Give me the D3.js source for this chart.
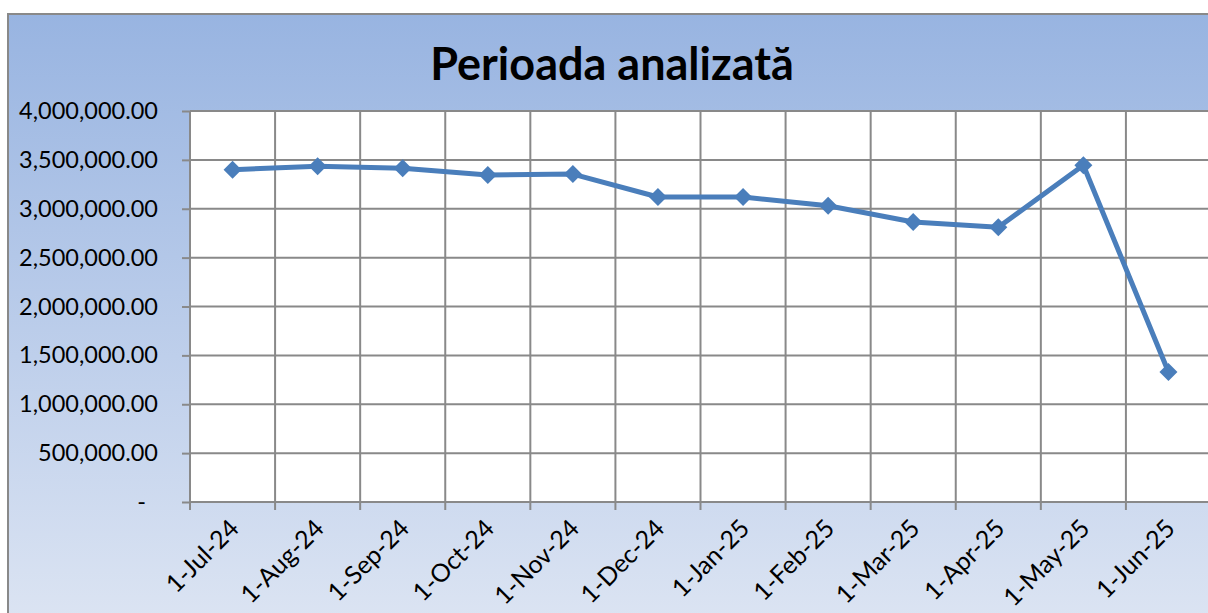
<!DOCTYPE html>
<html><head><meta charset="utf-8">
<script src="https://cdn.jsdelivr.net/npm/d3@7"></script>
<style>html,body{margin:0;padding:0;background:#fff;overflow:hidden}</style>
</head><body>
<svg id="c" width="1208" height="613"></svg>
<script>
const months = ["1-Jul-24","1-Aug-24","1-Sep-24","1-Oct-24","1-Nov-24","1-Dec-24","1-Jan-25","1-Feb-25","1-Mar-25","1-Apr-25","1-May-25","1-Jun-25"];
const values = [3400000,3435000,3415000,3345000,3355000,3120000,3120000,3030000,2865000,2810000,3445000,1330000];
const yTicks = [0,500000,1000000,1500000,2000000,2500000,3000000,3500000,4000000];
const title = "Perioada analizată";

const svg = d3.select("#c");
const FONT = "Lato, 'Open Sans', sans-serif";
const defs = svg.append("defs");
const g = defs.append("linearGradient").attr("id","bg").attr("x1",0).attr("y1",0).attr("x2",0).attr("y2",1);
g.append("stop").attr("offset","0").attr("stop-color","#98b4e1");
g.append("stop").attr("offset","1").attr("stop-color","#dde5f3");

svg.append("rect").attr("x",8).attr("y",14).attr("width",1220).attr("height",620)
  .attr("fill","url(#bg)").attr("stroke","#898989").attr("stroke-width",2);

const L=190, T=111, R=1211, B=502;
svg.append("rect").attr("x",L).attr("y",T).attr("width",R-L).attr("height",B-T).attr("fill","#fff");

const x = d3.scaleBand().domain(months).range([L,R]).padding(0);
const y = d3.scaleLinear().domain([0,4000000]).range([B,T]);

// horizontal gridlines
svg.append("g").selectAll("line").data(yTicks).join("line")
  .attr("x1",L).attr("x2",R).attr("y1",d=>y(d)).attr("y2",d=>y(d))
  .attr("stroke","#898989").attr("stroke-width",2);
// vertical gridlines at category boundaries
svg.append("g").selectAll("line").data(months).join("line")
  .attr("x1",d=>x(d)).attr("x2",d=>x(d)).attr("y1",T).attr("y2",B+8)
  .attr("stroke","#898989").attr("stroke-width",2);

// y axis
const ya = svg.append("g").attr("transform",`translate(${L},0)`)
  .call(d3.axisLeft(y).tickValues(yTicks).tickSize(8).tickPadding(24)
    .tickFormat(d=> d===0 ? "-" : d3.format(",.2f")(d)));
ya.select(".domain").remove();
ya.selectAll(".tick line").attr("stroke","#898989").attr("stroke-width",2);
ya.selectAll(".tick text").attr("font-family",FONT).attr("font-size",23.5).attr("fill","#000")
  .attr("dx", d=> d===0 ? -12 : 0);

// x axis labels
const xa = svg.append("g").attr("transform",`translate(0,${B})`)
  .call(d3.axisBottom(x).tickSize(0).tickPadding(0));
xa.select(".domain").remove();
xa.selectAll(".tick text").attr("font-family",FONT).attr("font-size",25).attr("fill","#000")
  .attr("text-anchor","end").attr("dy",0).attr("y",0)
  .attr("transform","translate(8,28) rotate(-45)");

// line
svg.append("path").datum(values.map((v,i)=>[months[i],v]))
  .attr("fill","none").attr("stroke","#4a7ebb").attr("stroke-width",5).attr("stroke-linejoin","round")
  .attr("d", d3.line().x(d=>x(d[0])+x.bandwidth()/2).y(d=>y(d[1])));
// markers
svg.append("g").selectAll("path").data(values).join("path")
  .attr("transform",(d,i)=>`translate(${x(months[i])+x.bandwidth()/2},${y(d)})`)
  .attr("d","M0,-9L9,0L0,9L-9,0Z").attr("fill","#4a7ebb");

// title
svg.append("text").attr("x",612).attr("y",80).attr("text-anchor","middle")
  .attr("font-family",FONT).attr("font-weight","bold").attr("font-size",45).attr("fill","#000")
  .text(title);
</script>
</body></html>
